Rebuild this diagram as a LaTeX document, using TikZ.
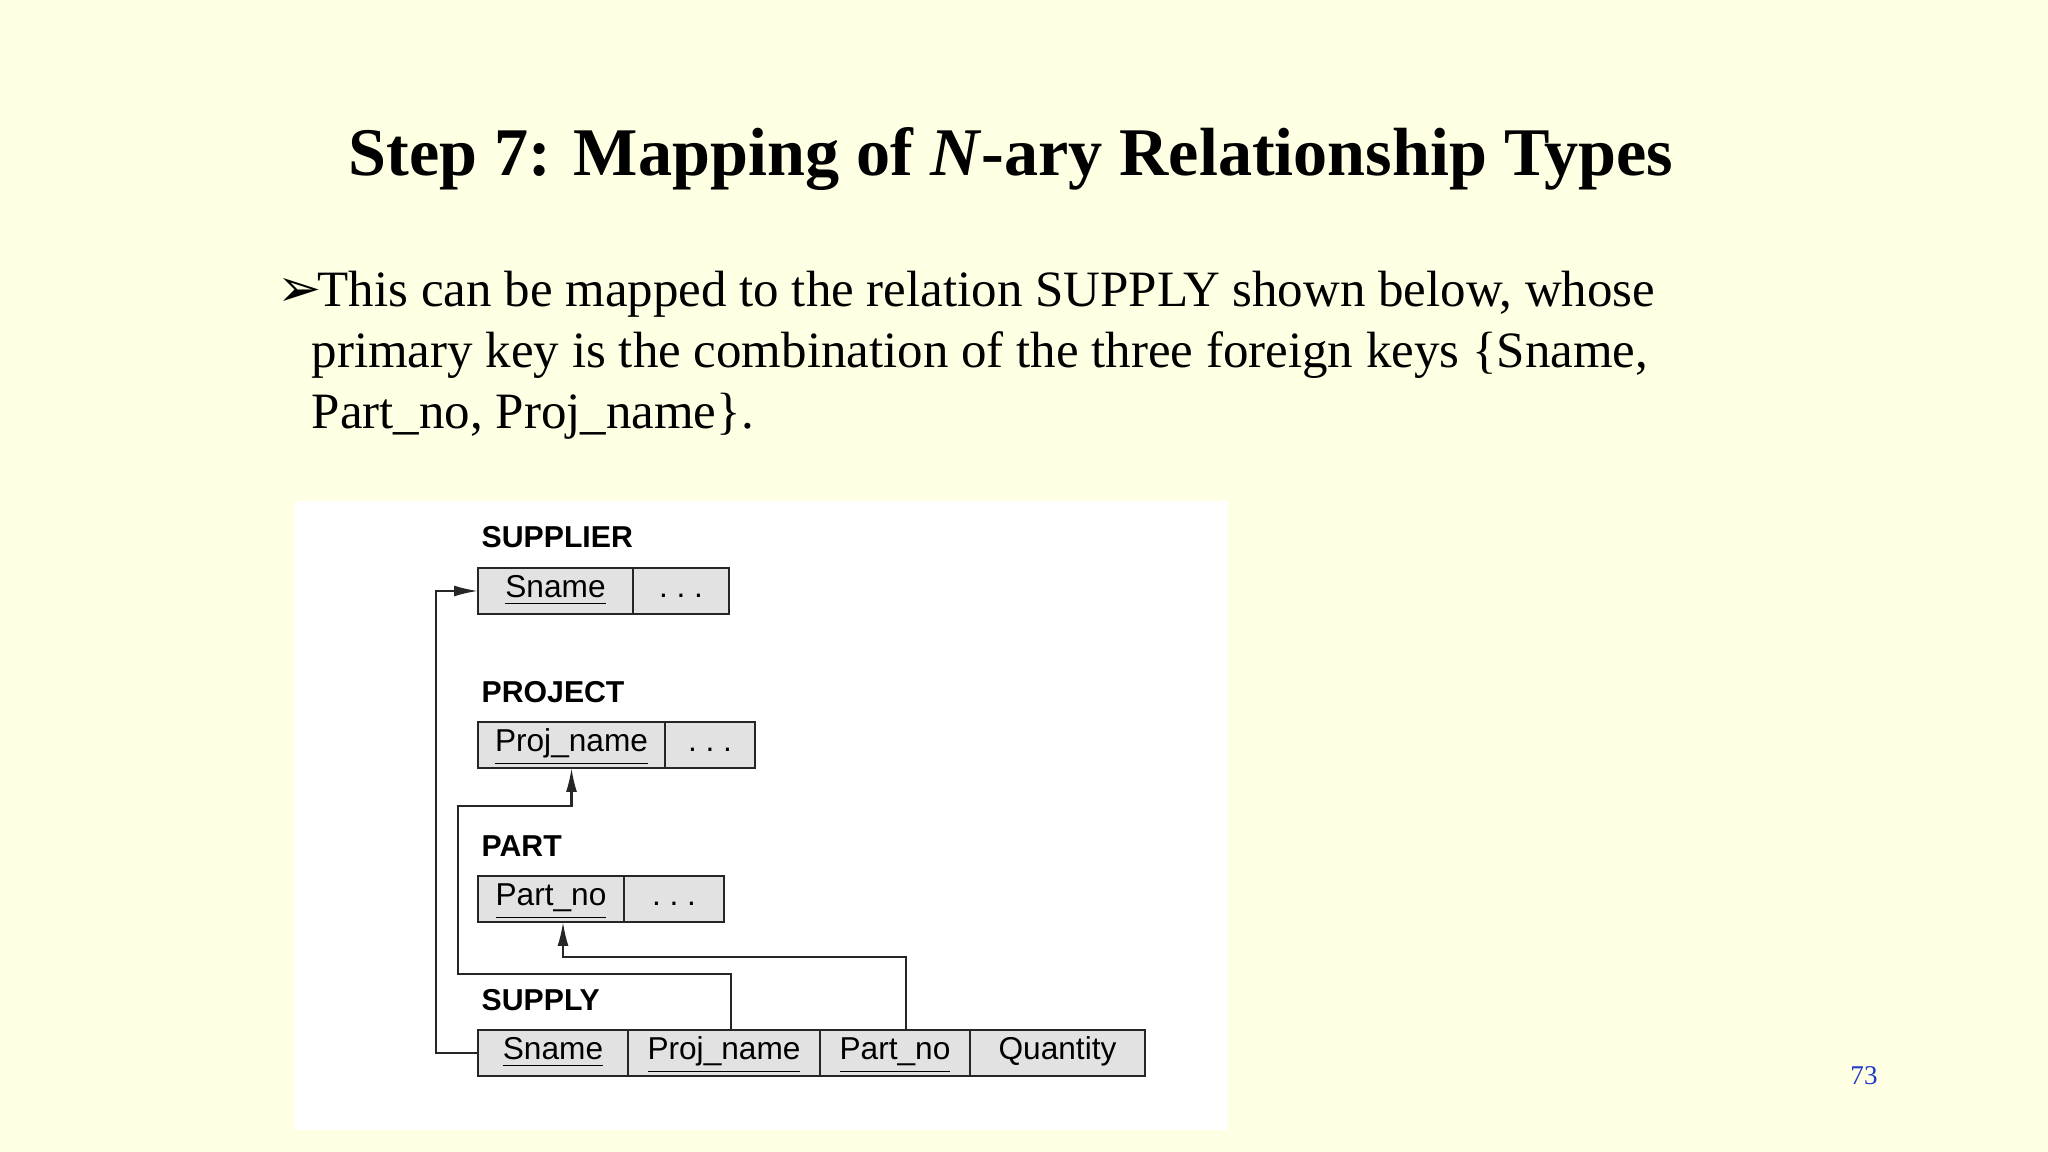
\documentclass[tikz,border=0pt]{standalone}
\usepackage{fontspec}
\setmainfont{Liberation Serif}
\newfontfamily\cellfont{Liberation Sans}
\newfontfamily\symfont{DejaVu Sans}
\usepackage{tikz}
\usetikzlibrary{positioning, calc, arrows.meta}
\definecolor{slidebg}{RGB}{255,255,228}
\definecolor{cellgray}{RGB}{226,226,226}
\definecolor{pagenum}{RGB}{30,60,200}

\begin{document}
\begin{tikzpicture}[
    x=0.1mm, y=-0.1mm,
    node distance=0pt,
    cell/.style={rectangle, draw=black!85, line width=0.7pt, fill=cellgray, minimum height=4.6mm, inner sep=0pt, outer sep=0pt, text height=2.4mm, text depth=1.0mm, font=\cellfont\fontsize{9}{10}\selectfont},
    tbl/.style={anchor=base west, inner sep=0pt, font=\cellfont\bfseries\fontsize{8.6}{10}\selectfont},
    fk/.style={-{Latex[length=2.4mm, width=1.1mm]}, line width=0.6pt, black!85},
    body/.style={anchor=base west, inner sep=0pt, font=\fontsize{14.5}{17}\selectfont}
]
    \fill[slidebg] (0,0) rectangle (2048,1152);
    \useasboundingbox (0,0) rectangle (2048,1152);
    \fill[white] (295,501) rectangle (1228,1130);

    \node[anchor=base, inner sep=0pt, font=\bfseries\fontsize{19.4}{23}\selectfont] (title) at (1011,176) {Step 7: Mapping of \textit{N}-ary Relationship Types};

    \node[anchor=base west, inner sep=0pt, font=\symfont\fontsize{15}{17}\selectfont] (bullet) at (277,307) {➢};
    \node[body] (lineA) at (317,307) {This can be mapped to the relation SUPPLY shown below, whose};
    \node[body] (lineB) at ($(lineA.base west)+(-6,61)$) {primary key is the combination of the three foreign keys \{Sname,};
    \node[body] (lineC) at ($(lineB.base west)+(0,61)$) {Part\_no, Proj\_name\}.};

    \node[cell, minimum width=15.5mm, anchor=north west] (supName) at (478,568) {\underline{Sname}};
    \node[cell, minimum width=9.6mm, right=of supName] (supDots) {.~.~.};
    \node[tbl] (supLabel) at ($(supName.north west)+(3,-20)$) {SUPPLIER};

    \node[cell, minimum width=18.7mm, anchor=north west] (projName) at (478,722) {\underline{Proj\_name}};
    \node[cell, minimum width=9.0mm, right=of projName] (projDots) {.~.~.};
    \node[tbl] (projLabel) at ($(projName.north west)+(3,-19)$) {PROJECT};

    \node[cell, minimum width=14.6mm, anchor=north west] (partNo) at (478,876) {\underline{Part\_no}};
    \node[cell, minimum width=10.0mm, right=of partNo] (partDots) {.~.~.};
    \node[tbl] (partLabel) at ($(partNo.north west)+(3,-19)$) {PART};

    \node[cell, minimum width=15.0mm, anchor=north west] (sySname) at (478,1030) {\underline{Sname}};
    \node[cell, minimum width=19.2mm, right=of sySname] (syProj) {\underline{Proj\_name}};
    \node[cell, minimum width=15.0mm, right=of syProj] (syPart) {\underline{Part\_no}};
    \node[cell, minimum width=17.5mm, right=of syPart] (syQty) {Quantity};
    \node[tbl] (syLabel) at ($(sySname.north west)+(3,-19)$) {SUPPLY};

    \draw[fk] (sySname.west) -- ++(-42,0) |- (supName.west);
    \draw[fk] ($(syProj.north)+(7,0)$) |- ++(-273,-56) |- ($(projName.south)+(0,38)$) -- (projName.south);
    \draw[fk] ($(syPart.north)+(11,0)$) |- ($(partNo.south)+(12,35)$) -- ($(partNo.south)+(12,0)$);

    \node[anchor=base, inner sep=0pt, font=\fontsize{7.7}{9}\selectfont, text=pagenum] (pageNo) at (1864,1085) {73};
\end{tikzpicture}
\end{document}
